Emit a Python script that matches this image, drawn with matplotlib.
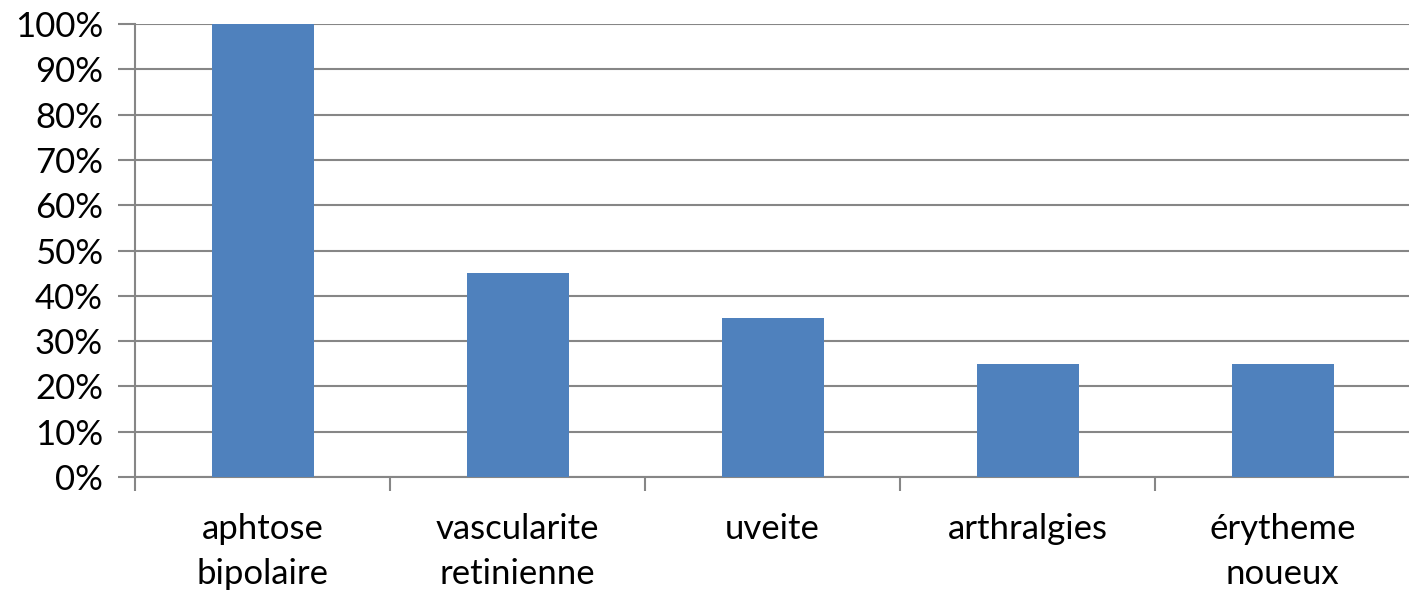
import matplotlib
matplotlib.use("Agg")
import matplotlib.pyplot as plt
from matplotlib.ticker import FixedLocator, NullFormatter

categories = ["aphtose\nbipolaire", "vascularite\nretinienne", "uveite", "arthralgies", "érytheme\nnoueux"]
values = [100, 45, 35, 25, 25]
yticks = [0, 10, 20, 30, 40, 50, 60, 70, 80, 90, 100]
ytick_labels = [f"{v}%" for v in yticks]

plt.rcParams['font.family'] = ['Lato', 'DejaVu Sans']

fig = plt.figure(figsize=(14.09, 5.98), dpi=100)
ax = fig.add_axes([135/1409, 1 - 477/598, 1275/1409, (477 - 24)/598])

x = list(range(len(categories)))
ax.bar(x, values, width=0.4, color="#4F81BD", zorder=3)

ax.set_xlim(-0.5, len(categories) - 0.5)
ax.set_ylim(0, 100)
ax.set_yticks(yticks)
ax.set_yticklabels(ytick_labels, fontsize=25)
ax.set_xticks(x)
ax.set_xticklabels(categories, fontsize=25, linespacing=1.5)
ax.tick_params(axis='x', length=0, pad=26)
ax.xaxis.set_minor_locator(FixedLocator([i + 0.5 for i in range(-1, len(categories) - 1)]))
ax.xaxis.set_minor_formatter(NullFormatter())
ax.tick_params(axis='x', which='minor', length=10, width=1.5, color="#868686")
ax.tick_params(axis='y', length=12, width=1.5, color="#868686", pad=11)

ax.grid(axis='y', color="#868686", linewidth=1.5, zorder=0)
for s in ['top', 'right']:
    ax.spines[s].set_visible(False)
ax.spines['left'].set_color("#868686")
ax.spines['left'].set_linewidth(1.5)
ax.spines['bottom'].set_color("#868686")
ax.spines['bottom'].set_linewidth(1.5)

fig.savefig("out.png", dpi=100)
